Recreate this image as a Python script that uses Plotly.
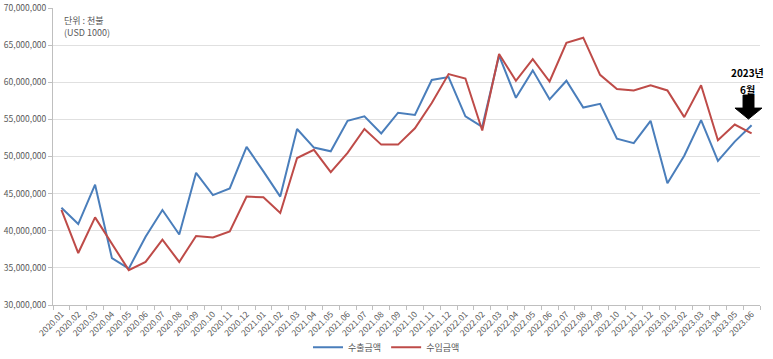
import plotly.graph_objects as go

months = [f"{y}.{m:02d}" for y in range(2020, 2024) for m in range(1, 13)][:42]

export_vals = [43.1, 40.9, 46.2, 36.3, 34.9, 39.2, 42.8, 39.5, 47.8, 44.8, 45.7, 51.3,
               48.0, 44.6, 53.7, 51.2, 50.7, 54.8, 55.4, 53.1, 55.9, 55.6, 60.3, 60.7,
               55.4, 54.0, 63.6, 57.9, 61.6, 57.7, 60.2, 56.6, 57.1, 52.4, 51.8, 54.8,
               46.4, 50.1, 54.9, 49.4, 52.0, 54.2]
import_vals = [42.8, 37.0, 41.8, 38.2, 34.7, 35.8, 38.8, 35.8, 39.3, 39.1, 39.9, 44.6,
               44.5, 42.4, 49.8, 50.9, 47.9, 50.5, 53.7, 51.6, 51.6, 53.8, 57.2, 61.1,
               60.5, 53.5, 63.8, 60.2, 63.1, 60.1, 65.3, 66.0, 61.0, 59.1, 58.9, 59.6,
               58.9, 55.3, 59.6, 52.2, 54.3, 53.1]
export_vals = [v * 1_000_000 for v in export_vals]
import_vals = [v * 1_000_000 for v in import_vals]

series_names = ["수출금액", "수입금액"]
colors = ["#4a7ebb", "#be4b48"]

font = "Noto Sans CJK KR"

fig = go.Figure()
for name, vals, c in zip(series_names, [export_vals, import_vals], colors):
    fig.add_trace(go.Scatter(x=months, y=vals, name=name, mode="lines",
                             line=dict(color=c, width=2)))

fig.update_layout(
    width=773, height=359,
    margin=dict(l=53, r=13, t=8, b=54, autoexpand=False),
    plot_bgcolor="white", paper_bgcolor="white",
    font=dict(family=font, size=9, color="#595959"),
    showlegend=True,
    legend=dict(orientation="h", x=0.5, xanchor="center", xref="container",
                y=0.033, yanchor="middle", yref="container", itemwidth=30,
                font=dict(size=9, color="#595959"), bgcolor="rgba(0,0,0,0)"),
    xaxis=dict(type="category", tickangle=-45, showgrid=False, range=[-0.5, 41.5],
               showline=True, linecolor="#bfbfbf", ticks="outside", tickcolor="#bfbfbf",
               ticklen=4, tickson="boundaries", tickfont=dict(size=8.5, color="#595959"),
               automargin=False),
    yaxis=dict(range=[30_000_000, 70_000_000], dtick=5_000_000, tickformat=",d",
               showgrid=True, gridcolor="#e0e0e0", gridwidth=1,
               showline=True, linecolor="#bfbfbf", ticks="outside", tickcolor="#bfbfbf",
               ticklen=4, zeroline=False, tickfont=dict(size=8.5, color="#595959"),
               automargin=False),
)

fig.add_annotation(xref="paper", yref="paper", x=0.0127, y=0.985, xanchor="left", yanchor="top",
                   text="단위 : 천불<br>(USD 1000)", showarrow=False, align="left",
                   font=dict(size=9, color="#595959", family=font))
fig.add_annotation(xref="paper", yref="paper", x=0.983, y=0.783, xanchor="center", yanchor="middle",
                   text="<b>2023년</b>", showarrow=False, borderpad=0,
                   font=dict(size=10, color="black", family=font))
fig.add_annotation(xref="paper", yref="paper", x=0.983, y=0.727, xanchor="center", yanchor="middle",
                   text="<b>6월</b>", showarrow=False, borderpad=0,
                   font=dict(size=10, color="black", family=font))
fig.add_shape(type="path", xref="paper", yref="paper",
              path="M 0.976 0.707 L 0.9915 0.707 L 0.9915 0.663 L 1.0028 0.663 L 0.9837 0.626 "
                   "L 0.9646 0.663 L 0.976 0.663 Z",
              fillcolor="black", line=dict(color="black", width=1))

fig.write_html("out.html", config={"displayModeBar": False},
               post_script="document.body.style.margin='0px';document.body.style.overflow='hidden';")
